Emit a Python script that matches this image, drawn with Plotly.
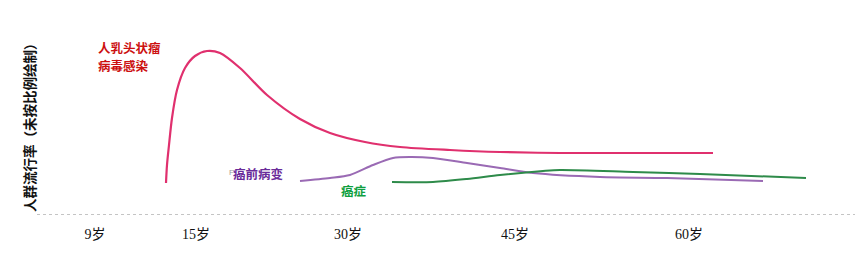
import plotly.graph_objects as go

# ---- data (schematic positions) ----
tick_pos = [95, 196, 348, 515, 689]
tick_labels = ["9岁", "15岁", "30岁", "45岁", "60岁"]

hpv_x = [166, 167, 169, 172, 177, 185, 195, 207, 220, 240, 267, 300, 330, 365, 400, 450, 500, 560, 713]
hpv_y = [32, 50, 70, 97, 125, 147, 159, 164, 162, 147, 120, 96, 82, 73, 68, 65, 63, 62, 62]

pre_x = [300, 330, 350, 373, 393, 410, 433, 467, 500, 533, 600, 667, 763]
pre_y = [34, 37, 40, 50, 57, 58, 57, 52, 47, 42, 38, 37, 34]

can_x = [392, 433, 467, 500, 543, 560, 633, 700, 806]
can_y = [33, 33, 36, 40, 44, 45, 43, 41, 37]

fig = go.Figure()
fig.add_trace(go.Scatter(x=hpv_x, y=hpv_y, mode="lines",
                         line=dict(color="#e0306e", width=2.2, shape="spline", smoothing=0.8),
                         hoverinfo="skip"))
fig.add_trace(go.Scatter(x=pre_x, y=pre_y, mode="lines",
                         line=dict(color="#9a6ab4", width=2, shape="spline", smoothing=0.8),
                         hoverinfo="skip"))
fig.add_trace(go.Scatter(x=can_x, y=can_y, mode="lines",
                         line=dict(color="#2e8b4a", width=2, shape="spline", smoothing=0.8),
                         hoverinfo="skip"))

cjk = "Noto Sans CJK SC"
ann = [
    dict(x=96, y=168, text="<b>人乳头状瘤</b>", font=dict(color="#cc1010", size=12.5, family=cjk), xanchor="left"),
    dict(x=96, y=150, text="<b>病毒感染</b>", font=dict(color="#cc1010", size=12.5, family=cjk), xanchor="left"),
    dict(x=227, y=43, text="F", font=dict(color="#9a9a9a", size=8, family="Liberation Sans"), xanchor="left"),
    dict(x=231, y=42, text="<b>癌前病变</b>", font=dict(color="#6a2c9a", size=12.5, family=cjk), xanchor="left"),
    dict(x=339, y=25, text="<b>癌症</b>", font=dict(color="#10a040", size=12.5, family=cjk), xanchor="left"),
    dict(x=29, y=91, text="<b>人群流行率（未按比例绘制）</b>", textangle=-90,
         font=dict(color="#111111", size=13.5, family=cjk), xanchor="center", yanchor="middle"),
]
for a in ann:
    a.setdefault("yanchor", "middle")
    fig.add_annotation(xref="x", yref="y", showarrow=False, **a)

fig.add_shape(type="line", xref="x", yref="y", x0=37, x1=855, y0=0, y1=0,
              line=dict(color="#888888", width=1, dash="dot"))

fig.update_layout(
    width=866, height=260,
    margin=dict(l=0, r=0, t=0, b=45),
    paper_bgcolor="white", plot_bgcolor="white",
    showlegend=False,
    xaxis=dict(range=[0, 866], tickvals=tick_pos, ticktext=tick_labels,
               showgrid=False, zeroline=False, showline=False,
               ticks="outside", ticklen=6, tickcolor="rgba(0,0,0,0)",
               tickfont=dict(family="Liberation Serif, " + cjk, size=14, color="#111111")),
    yaxis=dict(range=[0, 215], showgrid=False, zeroline=False, showline=False,
               showticklabels=False, ticks=""),
)

fig.write_html("out.html")
